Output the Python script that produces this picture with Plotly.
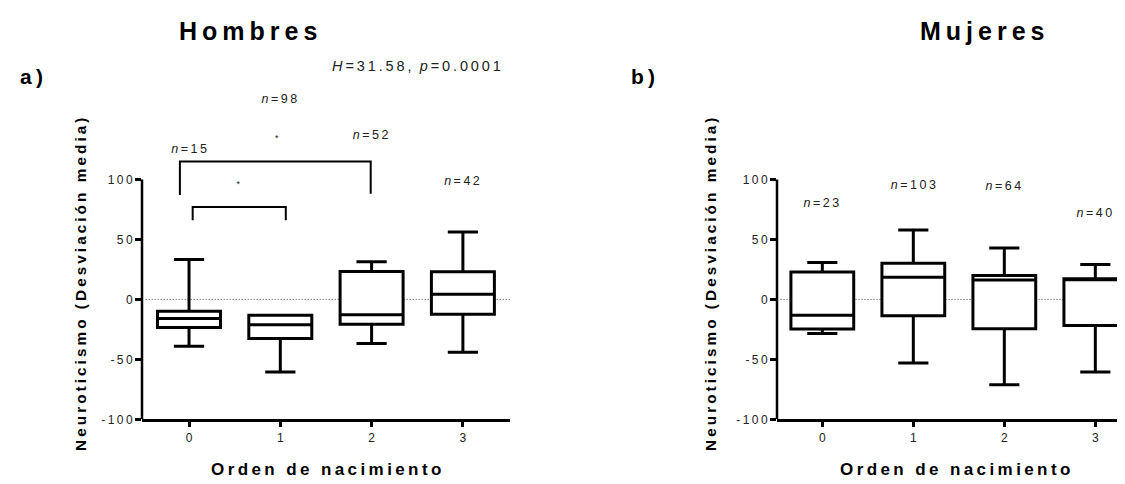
import plotly.graph_objects as go

# ---------------- data ----------------
categories = [0, 1, 2, 3]

# Hombres (a)
h_q1 = [-23.5, -32.6, -20.8, -12.3]
h_median = [-15.9, -21.1, -12.8, 4.4]
h_q3 = [-9.9, -13.1, 23.3, 23.0]
h_min = [-39.1, -60.5, -36.7, -44.0]
h_max = [33.2, -13.1, 31.5, 56.2]
h_n = [15, 98, 52, 42]
h_n_x = [0.0, 0.99, 1.99, 2.99]
h_n_y = [125, 166, 136, 98]

# Mujeres (b)
m_q1 = [-24.6, -13.7, -24.4, -21.8]
m_median = [-13.1, 18.4, 16.2, 17.3]
m_q3 = [22.8, 30.2, 20.0, 17.3]
m_min = [-28.5, -53.1, -71.2, -60.5]
m_max = [30.7, 57.8, 42.8, 29.1]
m_n = [23, 103, 64, 40]
m_n_x = [-0.01, 1.0, 1.99, 2.99]
m_n_y = [80, 95, 94, 71]

# significance brackets (Hombres)
br1_x = [-0.1, -0.1, 1.99, 1.99]
br1_y = [87, 115, 115, 88]
br2_x = [0.04, 0.04, 1.06, 1.06]
br2_y = [66, 77, 77, 66]
star_x = [0.54, 0.96]
star_y = [96, 134]

y_ticks = [-100, -50, 0, 50, 100]

FONT = "Liberation Sans, Arial, sans-serif"
TS = "\u2009"


def sp(s, sep=TS):
    return sep.join(list(s))


def nlab(n):
    return "<i>n</i>" + TS + "=" + TS + sp(str(n))


fig = go.Figure()

box_style = dict(line=dict(color="black", width=3), fillcolor="white",
                 width=0.69, whiskerwidth=0.48, boxpoints=False,
                 hoverinfo="skip", showlegend=False)

fig.add_trace(go.Box(x=categories, q1=h_q1, median=h_median, q3=h_q3,
                     lowerfence=h_min, upperfence=h_max,
                     xaxis="x", yaxis="y", **box_style))
fig.add_trace(go.Box(x=categories, q1=m_q1, median=m_median, q3=m_q3,
                     lowerfence=m_min, upperfence=m_max,
                     xaxis="x2", yaxis="y2", **box_style))

for bx, by in [(br1_x, br1_y), (br2_x, br2_y)]:
    fig.add_trace(go.Scatter(x=bx, y=by, mode="lines",
                             line=dict(color="black", width=2),
                             xaxis="x", yaxis="y", showlegend=False,
                             hoverinfo="skip"))

fig.add_trace(go.Scatter(x=star_x, y=star_y, mode="text", text=["*", "*"],
                         textfont=dict(family=FONT, size=9, color="#222"),
                         xaxis="x", yaxis="y", showlegend=False,
                         hoverinfo="skip", cliponaxis=False))

fig.add_trace(go.Scatter(x=h_n_x, y=h_n_y, mode="text",
                         text=[nlab(n) for n in h_n],
                         textfont=dict(family=FONT, size=12.5, color="#222"),
                         xaxis="x", yaxis="y", showlegend=False,
                         hoverinfo="skip", cliponaxis=False))
fig.add_trace(go.Scatter(x=m_n_x, y=m_n_y, mode="text",
                         text=[nlab(n) for n in m_n],
                         textfont=dict(family=FONT, size=12.5, color="#222"),
                         xaxis="x2", yaxis="y2", showlegend=False,
                         hoverinfo="skip", cliponaxis=False))

YDOM = [0.1376, 0.8417]
YRANGE = [-100, 180]

yax = dict(range=YRANGE, domain=YDOM, showgrid=False, zeroline=False,
           showline=False, tickvals=y_ticks,
           ticktext=[sp(str(v)) for v in y_ticks],
           ticks="outside", ticklen=6, tickwidth=2.5, tickcolor="black",
           tickfont=dict(family=FONT, size=12, color="#222"))
xax = dict(showgrid=False, zeroline=False, showline=True, linecolor="black",
           linewidth=2.5, tickvals=categories,
           ticktext=[str(c) for c in categories],
           ticks="outside", ticklen=5, tickwidth=2.5, tickcolor="black",
           tickfont=dict(family=FONT, size=12, color="#222"))

fig.update_layout(
    width=1125, height=484,
    margin=dict(l=0, r=0, t=0, b=0),
    paper_bgcolor="white", plot_bgcolor="white",
    xaxis=dict(xax, domain=[134 / 1125, 502 / 1125], range=[-0.515, 3.516],
               anchor="y"),
    yaxis=dict(yax, anchor="x"),
    xaxis2=dict(xax, domain=[769 / 1125, 1.0], range=[-0.498, 3.414],
                anchor="y2"),
    yaxis2=dict(yax, anchor="x2"),
)

# y-axis lines (only from -100 to 100) and dotted zero lines
for xr, yr in [("x", "y"), ("x2", "y2")]:
    fig.add_shape(type="line", xref=xr + " domain", yref=yr, x0=0, x1=0,
                  y0=-100, y1=100, line=dict(color="black", width=2.5))
    fig.add_shape(type="line", xref=xr + " domain", yref=yr, x0=0.01, x1=1,
                  y0=0, y1=0, line=dict(color="#444", width=1, dash="1px,2px"),
                  layer="below")

ytitle = "<b>" + sp("Neuroticismo (Desviación media)") + "</b>"
xtitle = "<b>" + sp("Orden de nacimiento") + "</b>"

ann = [
    dict(text="<b>" + sp("Hombres") + "</b>", x=240, y=23, font=dict(size=25)),
    dict(text="<b>" + sp("Mujeres") + "</b>", x=974, y=23, font=dict(size=25)),
    dict(text="<b>a" + TS + ")</b>", x=23, y=70, font=dict(size=21)),
    dict(text="<b>b" + TS + ")</b>", x=635, y=70, font=dict(size=21)),
    dict(text="<i>H</i>" + TS + "=" + TS + sp("31.58,") + "  <i>p</i>" + TS
         + "=" + TS + sp("0.0001"), x=408, y=59,
         font=dict(size=14.5, color="#222")),
    dict(text=xtitle, x=318, y=468, font=dict(size=17)),
    dict(text=xtitle, x=947, y=468, font=dict(size=17)),
    dict(text=ytitle, x=73, y=281, font=dict(size=15.3), textangle=-90),
    dict(text=ytitle, x=703, y=281, font=dict(size=15.3), textangle=-90),
]
for a in ann:
    f = dict(family=FONT, color="black")
    f.update(a.pop("font"))
    a["x"] = a["x"] / 1125
    a["y"] = 1 - a["y"] / 484
    fig.add_annotation(xref="paper", yref="paper", showarrow=False,
                       xanchor="center", yanchor="middle", font=f, **a)

fig.write_html("out.html")
